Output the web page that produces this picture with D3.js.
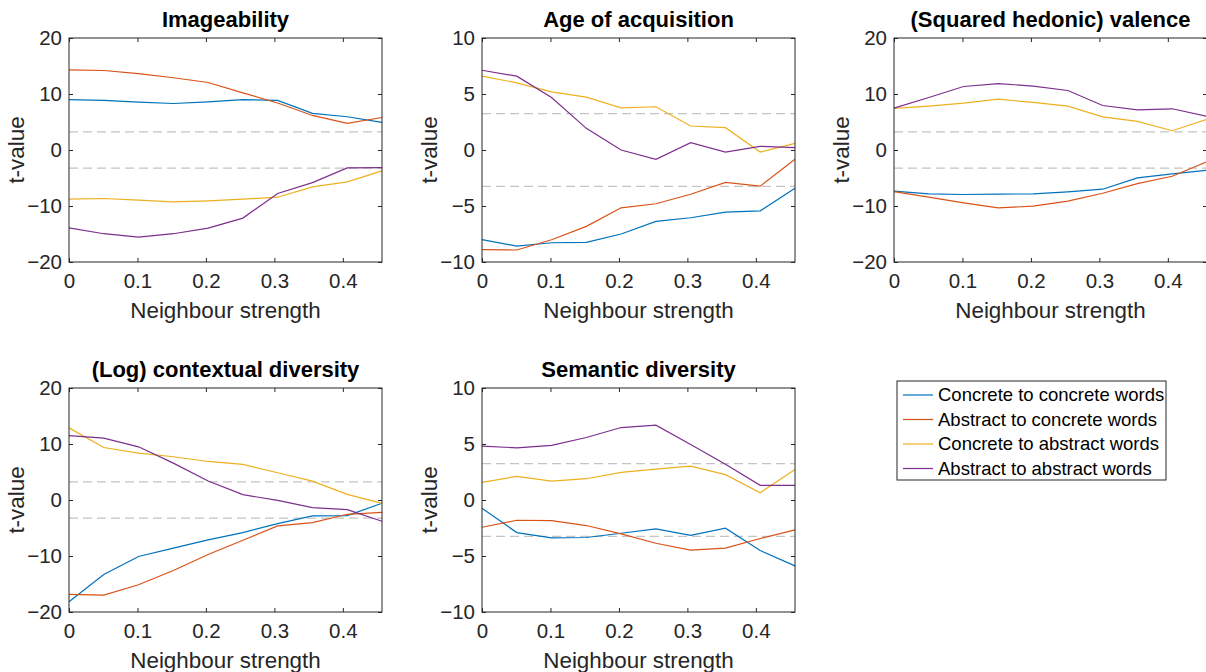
<!DOCTYPE html>
<html>
<head>
<meta charset="utf-8">
<script src="https://cdn.jsdelivr.net/npm/d3@7"></script>
<style>
  body { margin: 0; background: #fff; }
  text { font-family: "Liberation Sans", Arial, Helvetica, sans-serif; }
</style>
</head>
<body>
<svg id="chart" width="1206" height="672"></svg>
<script>
// neighbour strength values (shared by every panel)
var strength = [0, 0.0508, 0.1016, 0.1524, 0.2032, 0.254, 0.3048, 0.3556, 0.4064, 0.4572];

var seriesNames = ["Concrete to concrete words", "Abstract to concrete words",
                   "Concrete to abstract words", "Abstract to abstract words"];

var panelTitles = ["Imageability", "Age of acquisition", "(Squared hedonic) valence",
                   "(Log) contextual diversity", "Semantic diversity"];

var yDomains = [[-20, 20], [-10, 10], [-20, 20], [-20, 20], [-10, 10]];
var yTicks = [[-20, -10, 0, 10, 20], [-10, -5, 0, 5, 10], [-20, -10, 0, 10, 20],
              [-20, -10, 0, 10, 20], [-10, -5, 0, 5, 10]];
var xTicks = [0, 0.1, 0.2, 0.3, 0.4];
var threshold = 3.25;

// t-values per panel, series order as in seriesNames
var imageability = [
    [9.0, 8.85, 8.55, 8.3, 8.6, 9.0, 8.85, 6.53, 5.94, 4.93],
    [14.3, 14.2, 13.65, 12.9, 12.05, 10.2, 8.4, 6.17, 4.75, 5.8],
    [-8.78, -8.66, -8.96, -9.26, -9.08, -8.78, -8.43, -6.59, -5.7, -3.74],
    [-13.9, -14.95, -15.55, -14.95, -13.94, -12.16, -7.77, -5.82, -3.2, -3.15]
];
var ageOfAcquisition = [
    [-8.01, -8.58, -8.28, -8.25, -7.5, -6.38, -6.05, -5.55, -5.43, -3.41],
    [-8.9, -8.93, -8.01, -6.82, -5.16, -4.8, -3.95, -2.9, -3.23, -0.83],
    [6.59, 6.0, 5.19, 4.72, 3.77, 3.86, 2.14, 1.99, -0.18, 0.59],
    [7.12, 6.59, 4.69, 1.93, 0.0, -0.83, 0.65, -0.18, 0.33, 0.21]
];
var valence = [
    [-7.36, -7.83, -7.95, -7.89, -7.83, -7.48, -7.0, -4.99, -4.27, -3.62],
    [-7.42, -8.43, -9.44, -10.33, -10.03, -9.14, -7.72, -6.0, -4.69, -2.08],
    [7.42, 7.83, 8.37, 9.08, 8.49, 7.83, 5.93, 5.1, 3.44, 5.5],
    [7.48, 9.38, 11.34, 11.87, 11.4, 10.62, 7.95, 7.18, 7.36, 6.0]
];
var contextualDiversity = [
    [-18.16, -13.29, -10.09, -8.6, -7.12, -5.82, -4.21, -2.85, -2.79, -0.59],
    [-16.85, -16.97, -15.13, -12.58, -9.73, -7.18, -4.63, -4.04, -2.55, -2.2],
    [12.88, 9.38, 8.37, 7.72, 6.88, 6.35, 4.87, 3.38, 1.01, -0.59],
    [11.51, 11.04, 9.5, 6.59, 3.38, 0.95, -0.06, -1.36, -1.72, -3.8]
];
var semanticDiversity = [
    [-0.74, -2.91, -3.38, -3.35, -2.97, -2.58, -3.15, -2.52, -4.51, -5.88],
    [-2.43, -1.81, -1.84, -2.28, -3.03, -3.86, -4.48, -4.3, -3.44, -2.67],
    [1.57, 2.11, 1.69, 1.9, 2.46, 2.76, 3.03, 2.26, 0.65, 2.73],
    [4.81, 4.66, 4.87, 5.58, 6.47, 6.68, 4.96, 3.2, 1.31, 1.31]
];

var panelData = [imageability, ageOfAcquisition, valence, contextualDiversity, semanticDiversity];

var colors = ["#0072bd", "#d95319", "#edb120", "#7e2f8e"];

var svg = d3.select("#chart");
var plotW = 313, plotH = 224;
var origins = [[69, 38], [482, 38], [894, 38], [69, 388], [482, 388]];
var axisColor = "#262626";

var x = d3.scaleLinear().domain([0, strength[strength.length - 1]]).range([0, plotW]);

panelData.forEach(function(series, p) {
    var g = svg.append("g")
        .attr("transform", "translate(" + origins[p][0] + "," + origins[p][1] + ")");

    var y = d3.scaleLinear().domain(yDomains[p]).range([plotH, 0]);

    // significance thresholds
    [threshold, -threshold].forEach(function(t) {
        g.append("line")
            .attr("x1", 0).attr("x2", plotW)
            .attr("y1", y(t)).attr("y2", y(t))
            .attr("stroke", "#c4c4c4")
            .attr("stroke-width", 1.2)
            .attr("stroke-dasharray", "9,5");
    });

    var line = d3.line()
        .x(function(d, i) { return x(strength[i]); })
        .y(function(d) { return y(d); });

    series.forEach(function(vals, s) {
        g.append("path")
            .datum(vals)
            .attr("fill", "none")
            .attr("stroke", colors[s])
            .attr("stroke-width", 1.2)
            .attr("d", line);
    });

    // axes, ticks pointing inwards on all four sides
    var bottom = g.append("g")
        .attr("transform", "translate(0," + plotH + ")")
        .call(d3.axisBottom(x).tickValues(xTicks).tickFormat(d3.format("")).tickSizeInner(-4).tickSizeOuter(0).tickPadding(11));
    var top = g.append("g")
        .call(d3.axisTop(x).tickValues(xTicks).tickFormat("").tickSizeInner(-4).tickSizeOuter(0));
    var left = g.append("g")
        .call(d3.axisLeft(y).tickValues(yTicks[p]).tickSizeInner(-4).tickSizeOuter(0).tickPadding(7));
    var right = g.append("g")
        .attr("transform", "translate(" + plotW + ",0)")
        .call(d3.axisRight(y).tickValues(yTicks[p]).tickFormat("").tickSizeInner(-4).tickSizeOuter(0));

    [bottom, top, left, right].forEach(function(a) {
        a.select(".domain").remove();
        a.selectAll("line").attr("stroke", axisColor);
        a.selectAll("text").attr("fill", axisColor).style("font-size", "20.5px");
    });

    g.append("rect")
        .attr("width", plotW).attr("height", plotH)
        .attr("fill", "none")
        .attr("stroke", axisColor)
        .attr("stroke-width", 1);

    g.append("text")
        .attr("x", plotW / 2)
        .attr("y", -11)
        .attr("text-anchor", "middle")
        .style("font-size", "22px")
        .style("font-weight", "bold")
        .attr("fill", "#000")
        .text(panelTitles[p]);

    g.append("text")
        .attr("x", plotW / 2)
        .attr("y", plotH + 56)
        .attr("text-anchor", "middle")
        .style("font-size", "22.4px")
        .attr("fill", axisColor)
        .text("Neighbour strength");

    g.append("text")
        .attr("transform", "rotate(-90)")
        .attr("x", -plotH / 2)
        .attr("y", -45)
        .attr("text-anchor", "middle")
        .style("font-size", "22.4px")
        .attr("fill", axisColor)
        .text("t-value");
});

// legend
var legend = svg.append("g").attr("transform", "translate(897,381)");
legend.append("rect")
    .attr("width", 269).attr("height", 99)
    .attr("fill", "#fff")
    .attr("stroke", axisColor)
    .attr("stroke-width", 1);

seriesNames.forEach(function(name, i) {
    var row = legend.append("g").attr("transform", "translate(0," + (14 + i * 24.5) + ")");
    row.append("line")
        .attr("x1", 6).attr("x2", 36)
        .attr("stroke", colors[i])
        .attr("stroke-width", 1.2);
    row.append("text")
        .attr("x", 41)
        .attr("dy", "0.35em")
        .style("font-size", "18.5px")
        .attr("fill", "#000")
        .text(name);
});
</script>
</body>
</html>
